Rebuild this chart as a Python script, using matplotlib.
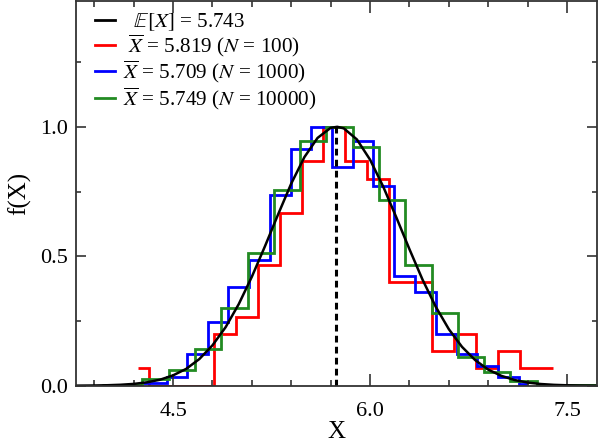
import numpy as np
import matplotlib.pyplot as plt
from matplotlib.lines import Line2D

plt.rcParams['font.family'] = ['Liberation Serif', 'DejaVu Serif']
plt.rcParams['mathtext.fontset'] = 'stix'

# expected value and sample means
mean_true = 5.743
labels = [r'  $\mathbb{E}[X]$ = 5.743',
          r' $\overline{X}$ = 5.819 ($N$ = 100)',
          r'$\overline{X}$ = 5.709 ($N$ = 1000)',
          r'$\overline{X}$ = 5.749 ($N$ = 10000)']

# model pdf
pdf_x = [3.76, 3.8, 3.9, 4.0, 4.1, 4.2, 4.3, 4.4, 4.5, 4.6, 4.7, 4.8, 4.9, 5.0, 5.1,
         5.2, 5.3, 5.4, 5.5, 5.6, 5.7, 5.75, 5.8, 5.9, 6.0, 6.1, 6.2, 6.3, 6.4, 6.5,
         6.6, 6.7, 6.8, 6.9, 7.0, 7.1, 7.2, 7.3, 7.4, 7.5, 7.6, 7.73]
pdf_y = [0.0002, 0.0004, 0.0008, 0.0018, 0.0036, 0.0069, 0.013, 0.023, 0.040, 0.065,
         0.103, 0.156, 0.226, 0.315, 0.421, 0.539, 0.662, 0.781, 0.883, 0.957, 0.996,
         1.0, 0.994, 0.951, 0.873, 0.769, 0.650, 0.527, 0.409, 0.305, 0.218, 0.150,
         0.099, 0.062, 0.038, 0.022, 0.012, 0.0065, 0.0033, 0.0016, 0.0008, 0.0002]

# N = 100 histogram (normalised to peak)
red_edges = [4.236, 4.320, 4.815, 4.980, 5.147, 5.315, 5.480, 5.642, 5.810, 5.975,
             6.142, 6.473, 6.640, 6.808, 6.975, 7.140, 7.391]
red_vals = [0.067, 0.0, 0.200, 0.267, 0.467, 0.667, 0.867, 1.0, 0.867, 0.800,
            0.400, 0.133, 0.200, 0.067, 0.133, 0.067]

# N = 1000 histogram
blue_edges = [4.272, 4.452, 4.604, 4.763, 4.921, 5.079, 5.239, 5.396, 5.553, 5.713,
              5.873, 6.025, 6.185, 6.343, 6.503, 6.660, 6.815, 6.975, 7.132, 7.205]
blue_vals = [0.010, 0.034, 0.124, 0.247, 0.380, 0.485, 0.736, 0.914, 1.0, 0.843,
             0.945, 0.771, 0.424, 0.363, 0.200, 0.122, 0.075, 0.034, 0.006]

# N = 10000 histogram
green_edges = [3.957, 4.264, 4.466, 4.668, 4.868, 5.068, 5.268, 5.468, 5.668, 5.868,
               6.068, 6.268, 6.468, 6.668, 6.868, 7.068, 7.268, 7.73]
green_vals = [0.004, 0.024, 0.060, 0.141, 0.301, 0.513, 0.756, 0.945, 1.0, 0.921,
              0.716, 0.468, 0.279, 0.109, 0.051, 0.017, 0.003]

fig = plt.figure(figsize=(5.99, 4.46), dpi=100)
ax = fig.add_axes([0.1269, 0.1352, 0.8698, 0.8626])

ax.plot(pdf_x, pdf_y, color='black', lw=1.8)
ax.stairs(red_vals, red_edges, baseline=None, color='red', lw=2)
ax.stairs(blue_vals, blue_edges, baseline=None, color='blue', lw=2)
ax.stairs(green_vals, green_edges, baseline=None, color='forestgreen', lw=2)
ax.plot([mean_true, mean_true], [0, 1.0], color='black', lw=2.2, ls=(0, (2.2, 1.4)))

handles = [Line2D([], [], color=c, lw=2) for c in ['black', 'red', 'blue', 'forestgreen']]
ax.legend(handles, labels, loc='upper left', bbox_to_anchor=(0.0, 1.022), frameon=False,
          fontsize=15.2, handlelength=0.97, handletextpad=0.36, labelspacing=0.0,
          borderaxespad=0.49)

ax.set_xlim(3.761, 7.728)
ax.set_ylim(0, 1.486)
ax.set_xticks([4.5, 6.0, 7.5])
ax.set_xticks(np.arange(3.9, 7.71, 0.3), minor=True)
ax.set_yticks([0.0, 0.5, 1.0])
ax.set_yticks([0.25, 0.75, 1.25], minor=True)
ax.set_xticklabels(['4.5', '6.0', '7.5'])
ax.set_yticklabels(['0.0', '0.5', '1.0'])
ax.tick_params(axis='both', which='both', direction='in', top=True, right=True,
               labelsize=16, color='#333333', width=1.2)
ax.tick_params(axis='x', which='major', length=8.6, pad=12)
ax.tick_params(axis='x', which='minor', length=4.3)
ax.tick_params(axis='y', which='major', length=7.2, pad=6)
ax.tick_params(axis='y', which='minor', length=3.6)
for s in ax.spines.values():
    s.set_color('#333333')
    s.set_linewidth(1.3)

ax.set_xlabel('X', fontsize=18, labelpad=0)
ax.set_ylabel('f(X)', fontsize=18, labelpad=6)

fig.savefig('out.png', dpi=100)
